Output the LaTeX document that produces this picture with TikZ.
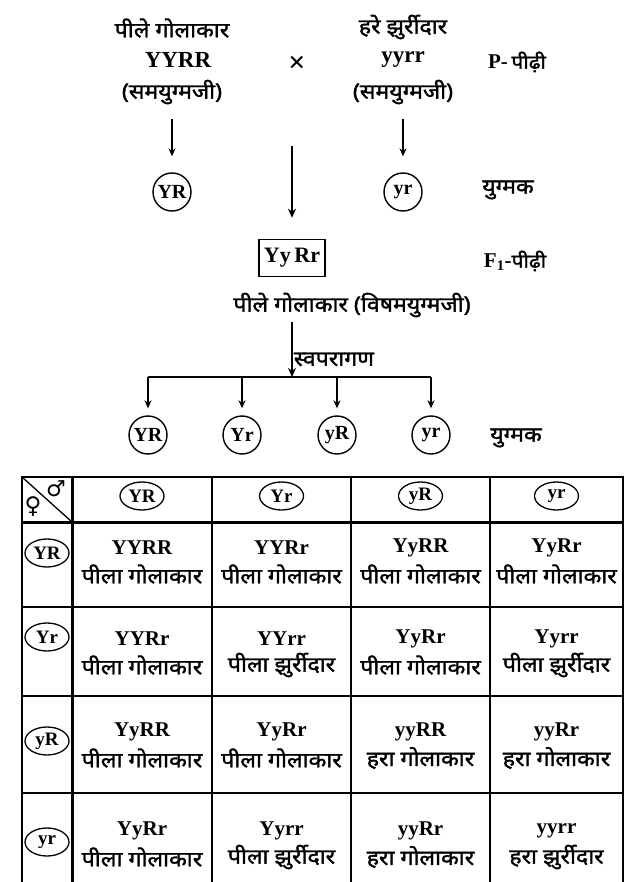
\documentclass[tikz,border=0pt]{standalone}
\usepackage{fontspec}
\setmainfont{Liberation Serif}
\newfontfamily\hindi[Script=Devanagari, FakeBold=1.6, FakeStretch=1.1]{Noto Sans}
\newfontfamily\symfont{DejaVu Sans}
\usetikzlibrary{arrows.meta,shapes.geometric}

\tikzset{
  hin/.style={font=\hindi\fontsize{21}{23}\selectfont, inner sep=1pt},
  gen/.style={font=\bfseries\fontsize{23}{25}\selectfont, inner sep=1pt},
  gam/.style={circle, draw, line width=1.4pt, minimum size=38pt, inner sep=0pt,
    font=\bfseries\fontsize{20}{20}\selectfont},
  egam/.style={ellipse, draw, line width=1.3pt, minimum width=44pt, minimum height=28pt,
    inner sep=0pt, font=\bfseries\fontsize{19}{19}\selectfont},
  thin arr/.style={-{Stealth[length=8pt,width=7pt]}, line width=1.1pt},
  fat arr/.style={-{Stealth[length=9pt,width=8pt]}, line width=1.8pt}
}

\begin{document}
\begin{tikzpicture}[x=1pt,y=-1pt]
\useasboundingbox (0,0) rectangle (627,882);

% parents
\node[hin] (yel) at (172,28) {पीले गोलाकार};
\node[gen] (pa) at (178,60) {YYRR};
\node[hin] (homa) at (172,92) {(समयुग्मजी)};
\node[hin] (grn) at (403,27) {हरे झुर्रीदार};
\node[gen] (pb) at (403,60) {yyrr};
\node[hin] (homb) at (403,92) {(समयुग्मजी)};
\node[font=\bfseries\fontsize{30}{30}\selectfont] (cross) at (297,64) {×};
\node (pgen) at (517,62) {\bfseries\fontsize{21}{21}\selectfont P-\,{\hindi\fontsize{19}{19}\selectfont पीढ़ी}};

% parent gametes
\node[gam] (ga) at (172,192) {YR};
\node[gam] (gb) at (403,192) {yr};
\node[hin] (gtag) at (508,190) {युग्मक};
\draw[thin arr, shorten <=14pt, shorten >=16pt] (homa) -- (ga);
\draw[thin arr, shorten <=14pt, shorten >=16pt] (homb) -- (gb);

% F1
\coordinate (fuse) at (292,146);
\node[draw, line width=1.5pt, minimum width=66pt, minimum height=37pt, gen,
  font=\bfseries\fontsize{22}{22}\selectfont] (fone) at (292,258) {Yy\,Rr};
\draw[fat arr, shorten >=21pt] (fuse) -- (fone);
\node (fgen) at (515,261) {\bfseries\fontsize{21}{21}\selectfont F\textsubscript{1}-{\hindi\fontsize{19}{19}\selectfont पीढ़ी}};
\node[hin] (het) at (352,305) {पीले गोलाकार (विषमयुग्मजी)};

% selfing
\coordinate (split) at (292,377);
\draw[fat arr, shorten <=4pt] (het.south -| split) -- (split)
  node[pos=0.7, right=0pt, hin] (self) {स्वपरागण};
\coordinate (b1) at (148,377);
\coordinate (b4) at (431,377);
\draw[line width=1.3pt] (b1) -- (b4);
\foreach \x/\g [count=\n] in {148/YR,242/Yr,337/yR,431/yr} {
  \node[gam] (f\n) at (\x,435) {\g};
  \coordinate (b\n) at (\x,377);
  \draw[thin arr, line width=1.3pt, shorten >=7pt] (b\n) -- (f\n);
}
\node[hin] (ftag) at (516,438) {युग्मक};

% checkerboard
\draw[line width=2.2pt] (22,882) -- (22,477) -- (623,477) -- (623,882);
\draw[line width=3pt] (22,522) -- (623,522);
\draw[line width=3pt] (72,477) -- (72,882);
\foreach \y in {607,696,793}
  \draw[line width=2pt] (22,\y) -- (623,\y);
\foreach \x in {212,351,490}
  \draw[line width=1.6pt] (\x,477) -- (\x,882);
\draw[line width=1.3pt] (22,477) -- (72,522);
\node[font=\symfont\bfseries\fontsize{22}{22}\selectfont] (male) at (56,489) {♂};
\node[font=\symfont\bfseries\fontsize{23}{23}\selectfont] (female) at (33,507) {♀};

\foreach \x/\g [count=\n] in {142/YR,281.5/Yr,420.5/yR,556.5/yr}
  \node[egam] (m\n) at (\x,496) {\g};
\foreach \y/\g [count=\n] in {553/YR,637/Yr,741/yR,842/yr}
  \node[egam] (w\n) at (47,\y) {\g};

\foreach \x/\y/\gt/\ph [count=\n] in {
  142/561/YYRR/पीला गोलाकार, 281.5/561/YYRr/पीला गोलाकार,
  420.5/561/YyRR/पीला गोलाकार, 556.5/561/YyRr/पीला गोलाकार,
  142/652/YYRr/पीला गोलाकार, 281.5/652/YYrr/पीला झुर्रीदार,
  420.5/652/YyRr/पीला गोलाकार, 556.5/652/Yyrr/पीला झुर्रीदार,
  142/745/YyRR/पीला गोलाकार, 281.5/745/YyRr/पीला गोलाकार,
  420.5/745/yyRR/हरा गोलाकार, 556.5/745/yyRr/हरा गोलाकार,
  142/844/YyRr/पीला गोलाकार, 281.5/844/Yyrr/पीला झुर्रीदार,
  420.5/844/yyRr/हरा गोलाकार, 556.5/844/yyrr/हरा झुर्रीदार} {
  \node[gen, font=\bfseries\fontsize{21}{22}\selectfont] (gt\n) at (\x,\y-13) {\gt};
  \node[hin] (ph\n) at (\x,\y+13) {\ph};
}
\end{tikzpicture}
\end{document}
